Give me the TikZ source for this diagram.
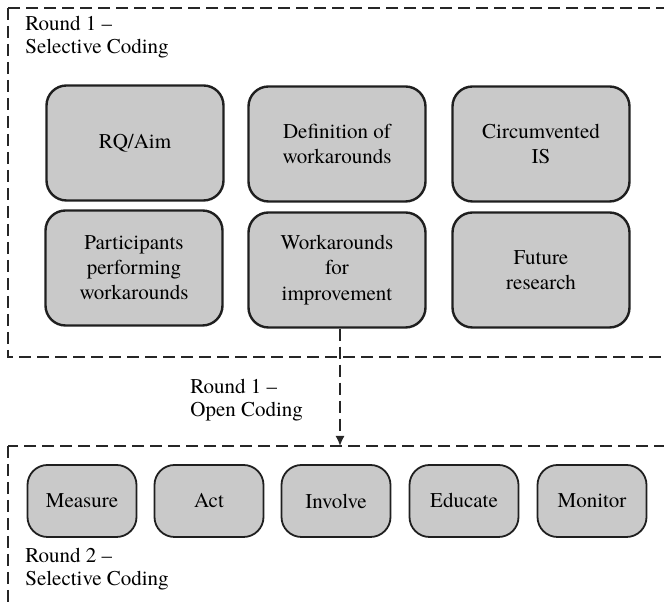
\documentclass[tikz,border=0pt]{standalone}
\usepackage{fontspec}
\setmainfont{texgyretermes}[Extension=.otf, UprightFont=*-regular, BoldFont=*-bold]
\usetikzlibrary{arrows.meta}
\begin{document}
\begin{tikzpicture}[x=0.5pt, y=0.5pt,
  code/.style={draw=black!88, line width=1.2pt, fill=black!21, rounded corners=10pt,
    align=center, minimum width=88.5pt, minimum height=57.5pt, inner sep=2pt,
    font=\fontsize{10.5}{12.6}\selectfont},
  small code/.style={code, minimum width=54.5pt, minimum height=36pt, line width=0.9pt},
  round box/.style={draw=black!85, line width=0.8pt, dash pattern=on 6pt off 3pt},
  round label/.style={align=left, anchor=north west, inner sep=0pt,
    font=\fontsize{10.5}{11.6}\selectfont}]

\clip (0,0) rectangle (664,603);

% Round 1 - selective coding
\draw[round box] (8,595) rectangle (700,246);
\node[round label] (r1sel) at (25,587) {Round 1 --\\Selective Coding};

\node[code] (aim) at (135,460) {RQ/Aim};
\node[code] (def) at (337,459) {Definition of\\workarounds};
\node[code] (circ) at (541,459) {Circumvented\\IS};

\node[code] (part) at (134,335) {Participants\\performing\\workarounds};
\node[code] (impr) at (337,333) {Workarounds\\for\\improvement};
\node[code] (fut) at (541,333) {Future\\research};

% Round 1 - open coding
\coordinate (open) at (340,157);
\draw[round box, -{Latex[length=5pt, width=4.5pt]}] (impr.south -| open) -- (open);
\node[round label] (r1open) at (190,224) {Round 1 --\\Open Coding};

% Round 2 - selective coding
\draw[round box] (8,157) rectangle (700,-20);
\node[small code] (meas) at (82,102) {Measure};
\node[small code] (act) at (209,102) {Act};
\node[small code] (inv) at (336,102) {Involve};
\node[small code] (edu) at (464,102) {\raisebox{1pt}{Educate}};
\node[small code] (mon) at (592,102) {Monitor};
\node[round label] (r2sel) at (25,55) {Round 2 --\\Selective Coding};

\end{tikzpicture}
\end{document}
